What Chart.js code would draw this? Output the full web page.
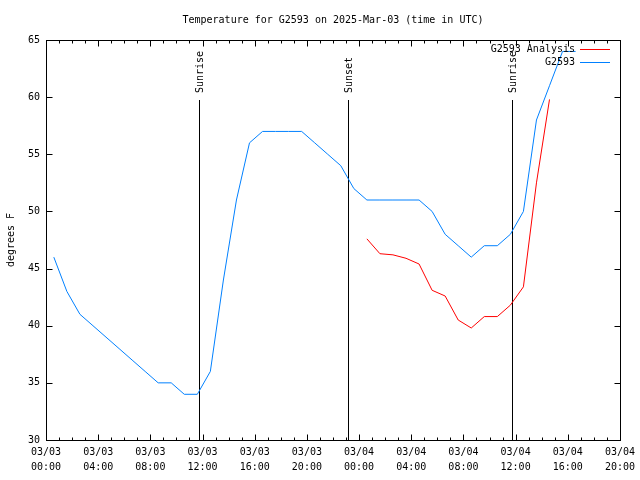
<!DOCTYPE html>
<html>
<head>
<meta charset="utf-8">
<script src="https://cdn.jsdelivr.net/npm/chart.js@4/dist/chart.umd.min.js"></script>
<style>
html,body{margin:0;padding:0;background:#fff;}
canvas{display:block;}
</style>
</head>
<body>
<canvas id="c" width="640" height="480"></canvas>
<script>
// ---- text ----
const titleText = 'Temperature for G2593 on 2025-Mar-03 (time in UTC)';
const yAxisTitle = 'degrees F';

// ---- x tick labels (hours since 03/03 00:00 UTC, every 4 h) ----
const xTickDates = ['03/03','03/03','03/03','03/03','03/03','03/03','03/04','03/04','03/04','03/04','03/04','03/04'];
const xTickTimes = ['00:00','04:00','08:00','12:00','16:00','20:00','00:00','04:00','08:00','12:00','16:00','20:00'];

// ---- series: G2593 observations (hours since 03/03 00:00 UTC, deg F) ----
const obsHours = [0.6,1.6,2.6,3.6,4.6,5.6,6.6,7.6,8.6,9.6,10.6,11.6,12.6,13.6,14.6,15.6,16.6,17.6,18.6,19.6,20.6,
                  21.6,22.6,23.6,24.6,25.6,26.6,27.6,28.6,29.6,30.6,31.6,32.6,33.6,34.6,35.6,36.6,37.6,38.6,39.6,40.6];
const obsTemps = [46,43,41,40,39,38,37,36,35,35,34,34,36,44,51,56,57,57,57,57,56,
                  55,54,52,51,51,51,51,51,50,48,47,46,47,47,48,50,58,61,64,64];

// ---- series: G2593 Analysis ----
const analysisHours = [24.6,25.6,26.6,27.6,28.6,29.6,30.6,31.6,32.6,33.6,34.6,35.6,36.6,37.6,38.6];
const analysisTemps = [47.6,46.3,46.2,45.9,45.4,43.1,42.6,40.5,39.8,40.8,40.8,41.8,43.4,52.5,59.8];

// ---- sun events ----
const eventNames = ['Sunrise','Sunset','Sunrise'];
const eventHours = [11.72,23.14,35.7];

// ---- legend ----
const seriesNames = ['G2593 Analysis','G2593'];
const seriesColors = ['#ff0000','#0080ff'];

const FONT = "'DejaVu Sans Mono', 'Liberation Mono', monospace";
Chart.defaults.font.family = FONT;
Chart.defaults.font.size = 10;
Chart.defaults.color = '#000';

function toXY(xs, ys){ return xs.map((x,i)=>({x:x, y:ys[i]})); }

const framePlugin = {
  id: 'frame',
  beforeDatasetsDraw(chart){
    const {ctx, chartArea:a, scales:{x:xs}} = chart;
    ctx.save();
    ctx.strokeStyle = '#000';
    ctx.lineWidth = 1;
    ctx.font = '10px ' + FONT;
    ctx.fillStyle = '#000';
    eventHours.forEach((h,i)=>{
      const px = Math.round(xs.getPixelForValue(h)) + 0.5;
      ctx.beginPath();
      ctx.moveTo(px, a.top + 60);
      ctx.lineTo(px, a.bottom);
      ctx.stroke();
      ctx.save();
      ctx.translate(px + 0.5, a.top + 53);
      ctx.rotate(-Math.PI/2);
      ctx.textAlign = 'left';
      ctx.textBaseline = 'middle';
      ctx.fillText(eventNames[i], 0, 0);
      ctx.restore();
    });
    ctx.restore();
  },
  afterDatasetsDraw(chart){
    const {ctx, chartArea:a, scales:{x:xs, y:ys}} = chart;
    ctx.save();
    ctx.strokeStyle = '#000';
    ctx.lineWidth = 1;
    const L = Math.round(a.left)+0.5, R = Math.round(a.right)+0.5;
    const T = Math.round(a.top)+0.5, B = Math.round(a.bottom)+0.5;
    ctx.strokeRect(L, T, R-L, B-T);
    const major = 6, minor = 3;
    ctx.beginPath();
    ys.ticks.forEach(t=>{
      const py = Math.round(ys.getPixelForValue(t.value))+0.5;
      ctx.moveTo(L, py); ctx.lineTo(L+major, py);
      ctx.moveTo(R, py); ctx.lineTo(R-major, py);
    });
    for(let h = xs.min; h <= xs.max; h++){
      const px = Math.round(xs.getPixelForValue(h))+0.5;
      const len = (h % 4 === 0) ? major : minor;
      ctx.moveTo(px, B); ctx.lineTo(px, B-len);
      ctx.moveTo(px, T); ctx.lineTo(px, T+len);
    }
    ctx.stroke();

    // legend
    ctx.font = '10px ' + FONT;
    ctx.textAlign = 'right';
    ctx.textBaseline = 'middle';
    ctx.fillStyle = '#000';
    seriesNames.forEach((name,i)=>{
      const yy = a.top + 9 + i*13;
      ctx.fillText(name, 575, yy);
      ctx.strokeStyle = seriesColors[i];
      ctx.beginPath();
      ctx.moveTo(580, Math.round(yy)+0.5);
      ctx.lineTo(610, Math.round(yy)+0.5);
      ctx.stroke();
    });
    ctx.restore();
  }
};

new Chart(document.getElementById('c'), {
  type: 'line',
  data: {
    datasets: [
      { label: seriesNames[0], data: toXY(analysisHours, analysisTemps),
        borderColor: seriesColors[0], borderWidth: 1, pointRadius: 0, tension: 0, fill: false },
      { label: seriesNames[1], data: toXY(obsHours, obsTemps),
        borderColor: seriesColors[1], borderWidth: 1, pointRadius: 0, tension: 0, fill: false }
    ]
  },
  options: {
    responsive: false,
    animation: false,
    devicePixelRatio: 1,
    layout: { padding: { left: 0, right: 20, top: 0, bottom: 0 } },
    plugins: {
      legend: { display: false },
      tooltip: { enabled: false },
      title: { display: true, text: titleText, color: '#000', fullSize: false,
               font: { family: FONT, size: 10, weight: 'normal', lineHeight: 1.2 },
               padding: { top: 14, bottom: 14 } }
    },
    scales: {
      x: {
        type: 'linear', min: 0, max: 44,
        grid: { display: false, drawTicks: false },
        border: { display: false },
        ticks: { stepSize: 4, autoSkip: false, maxRotation: 0, padding: 5,
                 font: { family: FONT, size: 10, lineHeight: 1.5 },
                 callback: (v, i) => [xTickDates[i], xTickTimes[i]] },
        afterFit: s => { s.height = 40; }
      },
      y: {
        type: 'linear', min: 30, max: 65,
        grid: { display: false, drawTicks: false },
        border: { display: false },
        ticks: { stepSize: 5, padding: 6, font: { family: FONT, size: 10 } },
        title: { display: true, text: yAxisTitle, color: '#000',
                 font: { family: FONT, size: 10, lineHeight: 1.2 }, padding: { top: 5, bottom: 0 } },
        afterFit: s => { s.width = 46; }
      }
    }
  },
  plugins: [framePlugin]
});
</script>
</body>
</html>
